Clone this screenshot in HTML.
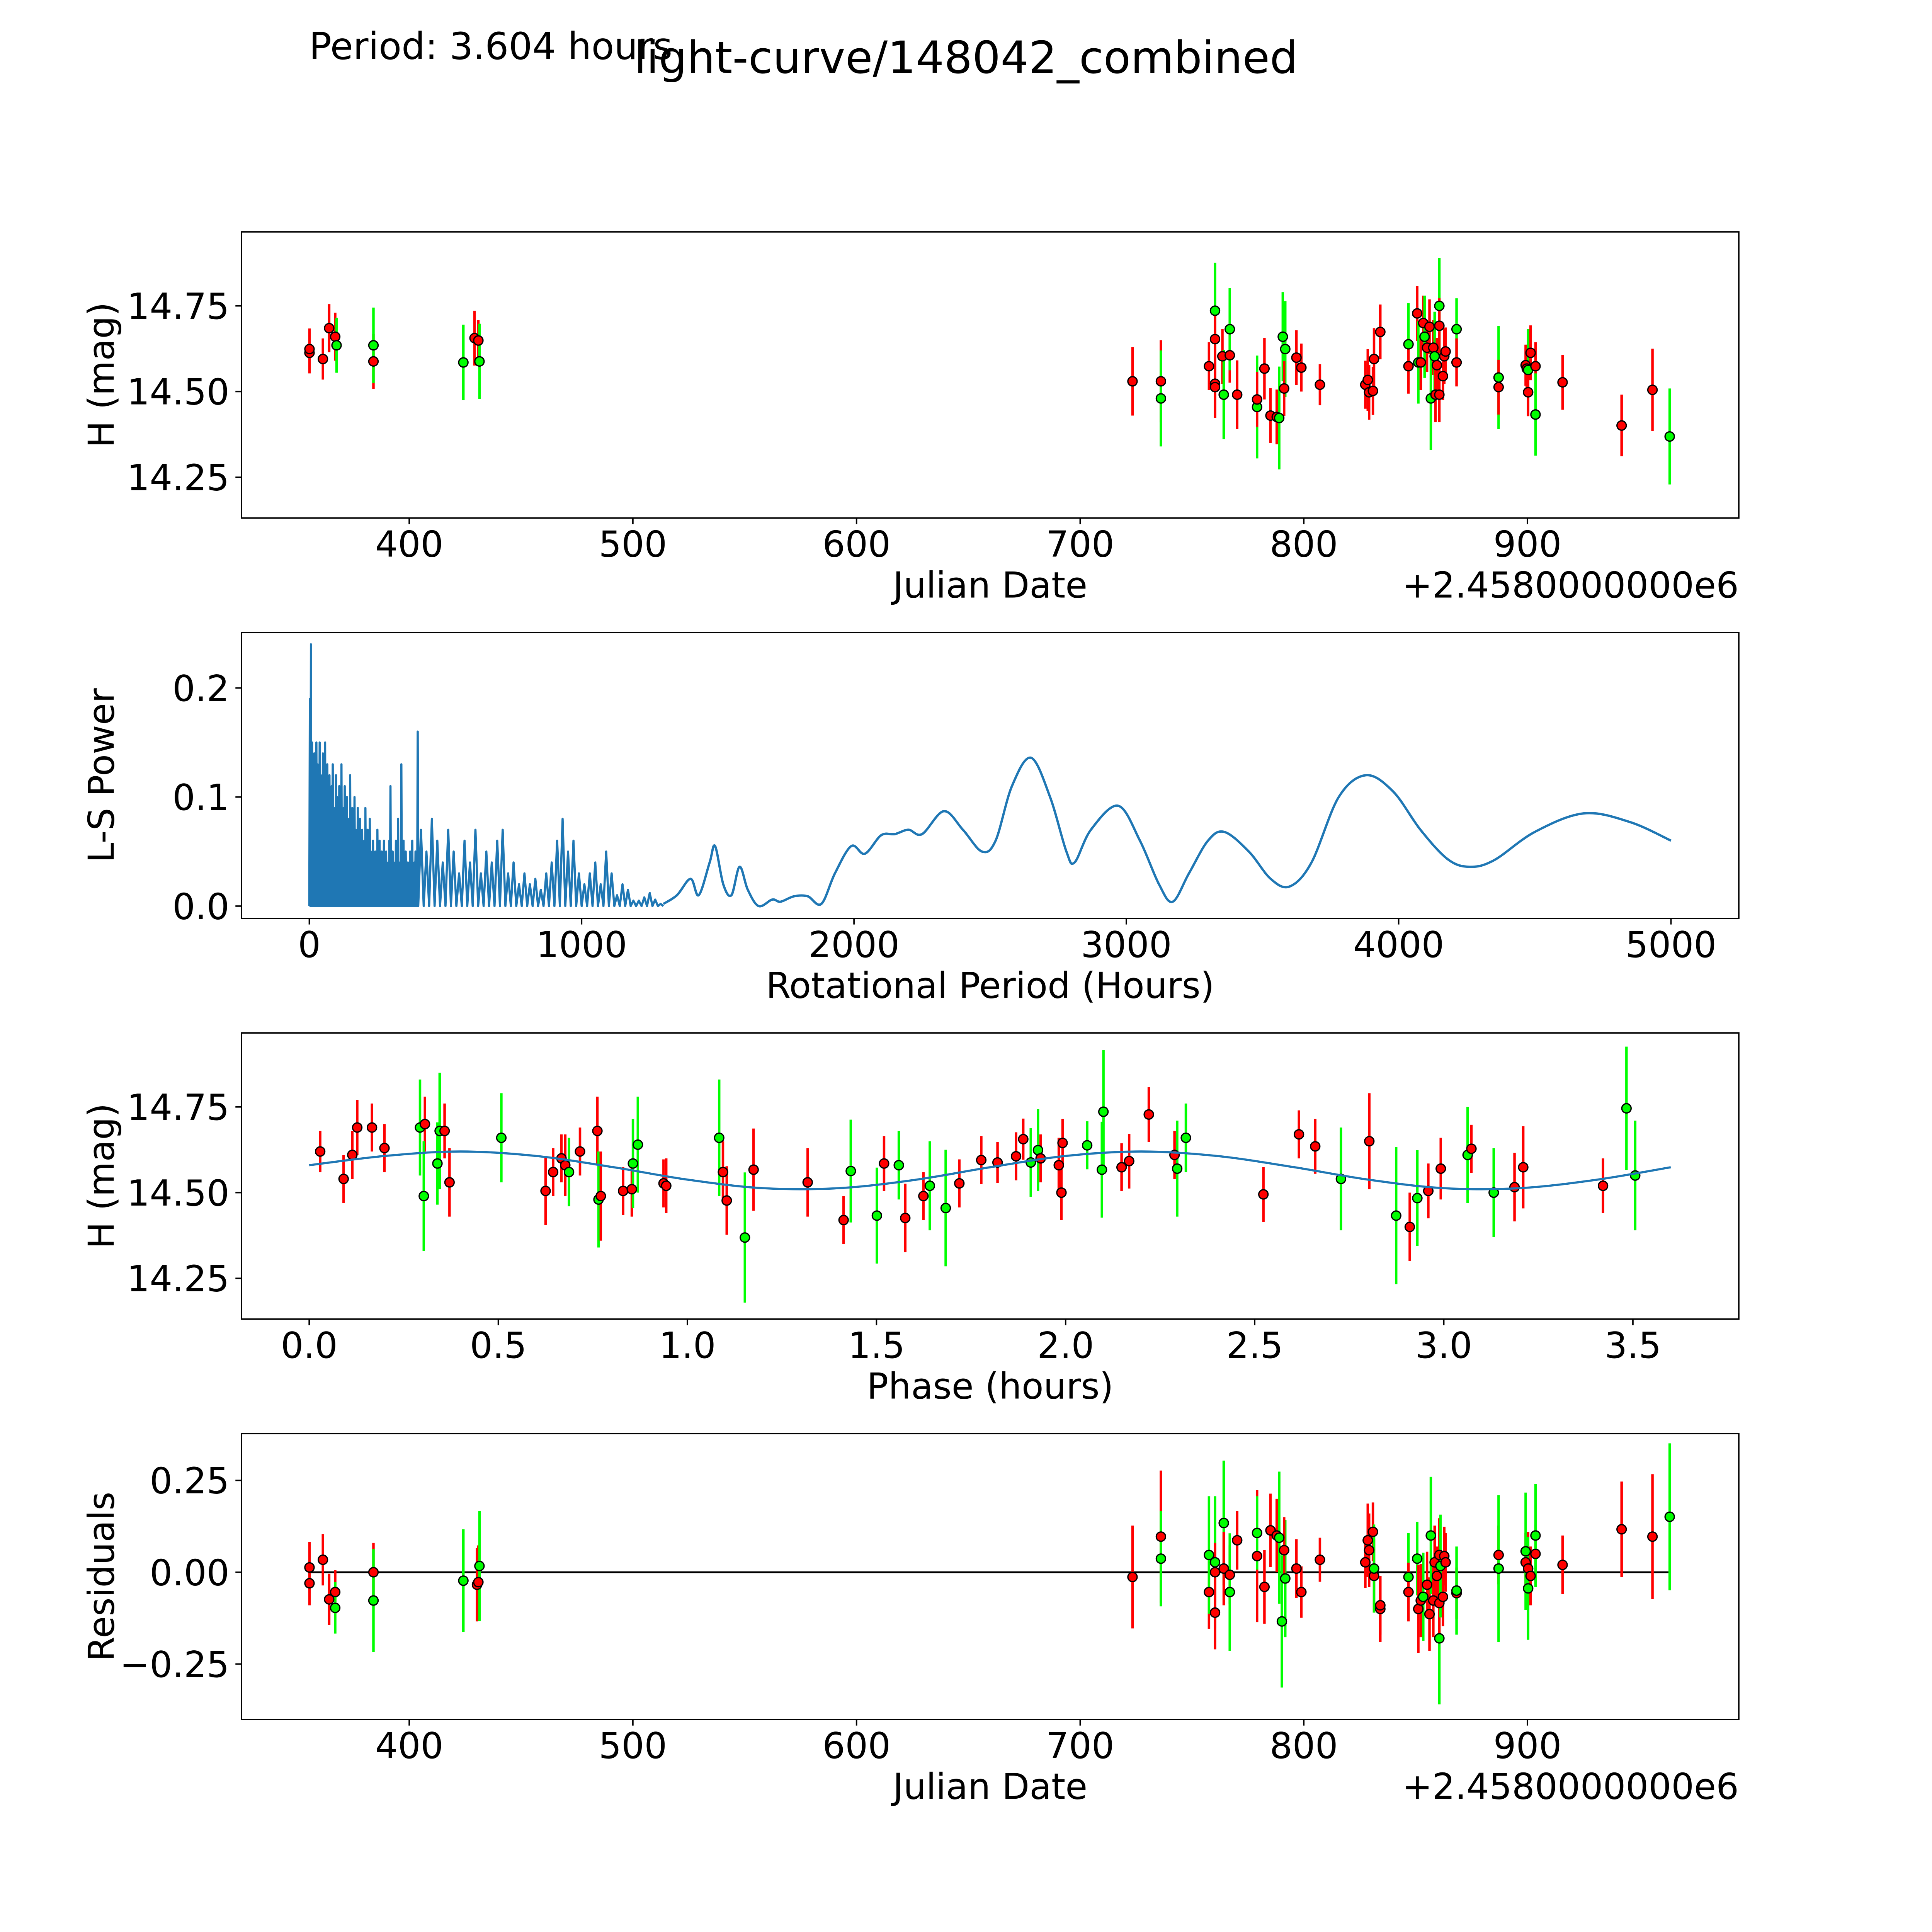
<!DOCTYPE html>
<html><head><meta charset="utf-8"><style>
html,body{margin:0;padding:0;background:#fff;overflow:hidden;width:100vw;height:100vh}
svg{display:block;width:100vw;height:100vh}
text{font-family:"DejaVu Sans","Liberation Sans",sans-serif;fill:#000}
</style></head><body>
<svg id="fig" xmlns="http://www.w3.org/2000/svg" viewBox="0 0 5400 5400" preserveAspectRatio="xMidYMid meet">
<rect width="5400" height="5400" fill="#fff"/>
<text x="864" y="165" font-size="104">Period: 3.604 hours</text>
<text x="2700" y="204" font-size="124" text-anchor="middle">light-curve/148042_combined</text>
</svg>
<script>
// ---------- Panel 1: light curve ----------
const lcDates=[355.4,355.4,361.4,364.2,366.9,367.5,384.0,384.0,424.2,429.2,430.9,431.4,
723.4,736.1,736.1,757.6,760.3,760.3,760.3,760.3,763.6,764.2,766.9,766.9,770.2,779.1,779.1,782.4,785.1,787.9,789.0,790.6,791.7,791.2,796.7,798.9,807.2,
827.5,828.6,829.2,830.9,831.4,834.2,846.8,846.8,850.7,851.2,852.3,853.4,854.0,855.1,856.2,856.8,857.9,858.5,858.9,859.5,860.6,860.6,860.6,862.2,862.8,863.4,868.3,868.3,
887.1,887.1,899.2,899.7,900.3,900.3,901.4,903.6,903.6,915.7,942.1,955.9,963.6];
const lcMag=[14.613,14.624,14.595,14.685,14.660,14.635,14.588,14.635,14.585,14.656,14.649,14.588,
14.53,14.53,14.48,14.574,14.736,14.653,14.523,14.513,14.603,14.491,14.606,14.682,14.491,14.455,14.477,14.567,14.430,14.426,14.423,14.66,14.624,14.509,14.599,14.570,14.520,
14.520,14.534,14.498,14.502,14.595,14.674,14.638,14.574,14.728,14.585,14.585,14.700,14.66,14.628,14.689,14.48,14.628,14.603,14.491,14.577,14.75,14.692,14.491,14.545,14.603,14.617,14.682,14.585,
14.541,14.513,14.577,14.567,14.563,14.498,14.613,14.574,14.433,14.527,14.401,14.505,14.369];
const lcErr=[0.06,0.06,0.06,0.07,0.07,0.08,0.08,0.11,0.11,0.08,0.06,0.11,
0.1,0.12,0.14,0.07,0.14,0.09,0.1,0.09,0.08,0.13,0.08,0.12,0.1,0.15,0.08,0.09,0.08,0.08,0.15,0.13,0.14,0.08,0.08,0.07,0.06,
0.07,0.09,0.08,0.07,0.09,0.08,0.12,0.08,0.08,0.12,0.08,0.08,0.12,0.07,0.08,0.15,0.08,0.13,0.08,0.08,0.14,0.08,0.08,0.07,0.08,0.07,0.09,0.07,
0.15,0.08,0.06,0.07,0.12,0.07,0.08,0.07,0.12,0.08,0.09,0.12,0.14];
const lcColor=["r","r","r","r","r","g","r","g","g","r","r","g",
"r","r","g","r","g","r","r","r","r","g","r","g","r","g","r","r","r","r","g","g","g","r","r","r","r",
"r","r","r","r","r","r","g","r","r","g","r","r","g","r","r","g","r","g","r","r","g","r","r","r","r","r","g","r",
"g","r","r","r","g","r","r","r","g","r","r","r","g"];
const lcXTicks=[400,500,600,700,800,900];
const lcYTicks=[14.25,14.50,14.75];

// ---------- Panel 2: periodogram ----------
const lsDensePeaks=[0.19,0.24,0.15,0.12,0.14,0.10,0.15,0.13,0.09,0.15,0.12,0.08,0.14,0.11,0.15,
0.10,0.13,0.08,0.12,0.06,0.11,0.13,0.09,0.07,0.12,0.10,0.05,0.11,0.08,0.13,0.06,0.09,0.11,0.07,0.10,0.04,0.08,0.12,0.06,0.09,0.05,0.10,0.07,0.03,0.09,0.06,0.08,0.04,0.07,0.05,
0.06,0.09,0.04,0.07,0.03,0.08,0.05,0.02,0.06,0.04,0.05,0.03,0.07,0.04,0.06,0.02,0.05,0.03,0.06,0.04,0.05,0.03,0.04,0.06,0.11,0.04,0.05,0.04,0.02,0.06,0.03,0.08,0.04,0.02,0.13,0.03,0.06,0.04,0.05,0.03,0.04,0.02,0.05,0.03,0.06,0.02,0.04,0.05,0.03,0.16];
const lsDenseStart=2, lsDenseStep=4;
const lsMidPeaks=[0.07,0.05,0.08,0.06,0.04,0.07,0.05,0.03,0.06,0.04,0.07,0.03,0.05,0.04,0.06,0.07,0.03,0.04,0.02,0.03,0.02,0.025,0.015,0.03,0.04,0.06,0.08,0.05,0.06,0.03,0.02,0.03,0.04,0.02,0.05,0.03,0.01,0.02,0.015,0.005,0.005,0.008,0.012,0.006,0.002];
const lsMidStart=410, lsMidStep=20;
const lsSmoothPeriod=[1300,1350,1400,1430,1470,1490,1520,1550,1580,1610,1650,1700,1730,1780,1830,1880,1930,1990,2040,2100,2150,2200,2250,2330,2400,2470,2520,2580,2650,2720,2780,2810,2870,2970,3050,3120,3170,3230,3300,3360,3450,3530,3600,3680,3780,3880,3980,4080,4180,4260,4350,4500,4680,4850,5000];
const lsSmoothPower=[0.002,0.01,0.025,0.01,0.04,0.055,0.02,0.01,0.036,0.015,0.0,0.006,0.004,0.009,0.009,0.002,0.03,0.055,0.048,0.065,0.066,0.07,0.066,0.087,0.07,0.05,0.06,0.11,0.136,0.1,0.05,0.04,0.07,0.092,0.06,0.02,0.004,0.03,0.06,0.068,0.05,0.025,0.018,0.04,0.1,0.12,0.105,0.07,0.043,0.036,0.042,0.068,0.085,0.077,0.06];
const lsXTicks=[0,1000,2000,3000,4000,5000];
const lsYTicks=[0.0,0.1,0.2];

// ---------- Panel 3: phased ----------
const phPhase=[0.029,0.091,0.114,0.127,0.293,0.306,0.303,0.166,0.199,0.339,0.345,0.358,0.371,0.508,0.625,0.645,0.667,0.677,0.687,0.716,0.762,0.765,0.771,0.830,0.853,0.856,0.869,0.937,0.944,
1.084,1.094,1.104,1.152,1.175,1.318,1.413,1.432,1.501,1.520,1.559,1.576,1.641,1.624,1.683,1.719,1.777,1.820,1.869,1.888,1.908,1.927,1.934,1.982,1.989,1.992,
2.057,2.100,2.096,2.148,2.168,2.220,2.288,2.295,2.318,2.523,2.617,2.660,2.728,2.803,2.874,2.910,2.930,2.959,2.992,3.063,3.073,3.132,3.187,3.210,3.421,3.483,3.506];
const phMag=[14.62,14.54,14.61,14.69,14.69,14.70,14.49,14.69,14.63,14.585,14.68,14.68,14.53,14.66,14.505,14.56,14.60,14.58,14.56,14.62,14.68,14.48,14.49,14.505,14.51,14.585,14.64,14.527,14.52,
14.66,14.56,14.477,14.369,14.567,14.53,14.42,14.563,14.433,14.585,14.58,14.426,14.52,14.49,14.455,14.527,14.595,14.588,14.606,14.656,14.588,14.624,14.60,14.58,14.50,14.645,
14.638,14.736,14.567,14.574,14.592,14.728,14.61,14.57,14.66,14.495,14.67,14.635,14.54,14.65,14.433,14.40,14.484,14.505,14.57,14.61,14.628,14.50,14.516,14.574,14.52,14.746,14.55];
const phErr=[0.06,0.07,0.07,0.08,0.14,0.08,0.16,0.07,0.07,0.12,0.17,0.08,0.1,0.13,0.1,0.07,0.07,0.09,0.1,0.07,0.1,0.14,0.13,0.07,0.08,0.13,0.14,0.07,0.08,
0.17,0.09,0.1,0.19,0.12,0.1,0.07,0.15,0.14,0.08,0.1,0.1,0.13,0.07,0.17,0.07,0.07,0.06,0.07,0.06,0.1,0.12,0.07,0.08,0.08,0.07,
0.07,0.18,0.14,0.07,0.08,0.08,0.07,0.14,0.1,0.08,0.07,0.08,0.15,0.14,0.2,0.1,0.14,0.08,0.09,0.14,0.07,0.13,0.1,0.12,0.08,0.18,0.16];
const phColor=["r","r","r","r","g","r","g","r","r","g","g","r","r","g","r","r","r","r","g","r","r","g","r","r","r","g","g","r","r",
"g","r","r","g","r","r","r","g","g","r","g","r","g","r","g","r","r","r","r","r","g","g","r","r","r","r",
"g","g","g","r","r","r","r","g","g","r","r","r","g","r","g","r","g","r","r","g","r","g","r","r","r","g","g"];
const modelPhase=[0,0.2,0.4,0.6,0.8,1.0,1.2,1.4,1.6,1.8,2.0,2.2,2.4,2.6,2.8,3.0,3.2,3.4,3.6];
const modelMag=[14.58,14.607,14.62,14.607,14.575,14.538,14.513,14.513,14.537,14.574,14.607,14.62,14.607,14.575,14.538,14.513,14.513,14.537,14.574];
const phXTicks=[0.0,0.5,1.0,1.5,2.0,2.5,3.0,3.5];
const phXLabels=["0.0","0.5","1.0","1.5","2.0","2.5","3.0","3.5"];

// ---------- Panel 4: residuals ----------
const resDates=[355.4,355.4,361.4,364.2,366.9,366.9,384.0,384.0,424.2,430.3,430.9,431.4,
723.4,736.1,736.1,757.6,757.6,760.3,760.3,760.3,764.2,764.2,766.9,766.9,770.2,779.1,779.1,782.4,785.1,787.9,789.0,790.2,791.7,791.2,796.7,798.9,807.2,
827.5,828.6,829.2,830.9,831.4,831.4,834.2,834.2,846.8,846.8,850.7,851.2,852.3,853.4,855.1,856.2,856.8,857.9,858.5,859.5,860.6,860.6,860.6,861.1,862.2,862.8,863.4,868.3,868.3,
887.1,887.1,899.2,899.2,900.3,900.3,901.4,903.6,903.6,915.7,942.1,955.9,963.6];
const resVal=[0.013,-0.03,0.034,-0.074,-0.054,-0.097,0.0,-0.077,-0.023,-0.034,-0.027,0.017,
-0.013,0.097,0.037,-0.054,0.047,0.027,0.0,-0.11,0.134,0.01,-0.007,-0.054,0.087,0.044,0.107,-0.04,0.114,0.10,0.094,-0.134,-0.017,0.06,0.01,-0.054,0.034,
0.027,0.087,0.06,0.11,-0.01,0.01,-0.10,-0.09,-0.013,-0.054,0.037,-0.1,-0.077,-0.067,-0.034,-0.114,0.1,-0.077,0.027,-0.01,-0.18,-0.084,0.047,0.017,-0.067,0.044,0.027,-0.057,-0.05,
0.047,0.01,0.027,0.057,0.01,-0.044,-0.01,0.05,0.1,0.02,0.117,0.097,0.151];
const resErr=[0.07,0.06,0.07,0.07,0.06,0.07,0.08,0.14,0.14,0.1,0.1,0.15,
0.14,0.18,0.13,0.1,0.16,0.18,0.08,0.1,0.17,0.1,0.08,0.16,0.08,0.18,0.1,0.1,0.1,0.1,0.18,0.18,0.16,0.09,0.08,0.07,0.06,
0.07,0.1,0.1,0.08,0.1,0.12,0.09,0.08,0.12,0.08,0.1,0.12,0.1,0.12,0.09,0.1,0.16,0.1,0.1,0.08,0.18,0.1,0.1,0.14,0.08,0.08,0.08,0.07,0.12,
0.08,0.2,0.08,0.16,0.1,0.14,0.08,0.08,0.14,0.08,0.13,0.17,0.2];
const resColor=["r","r","r","r","r","g","r","g","g","r","r","g",
"r","r","g","r","g","g","r","r","g","r","r","g","r","r","g","r","r","r","g","g","g","r","r","r","r",
"r","r","r","r","r","g","r","r","g","r","g","r","r","g","r","r","g","r","r","r","g","r","r","g","r","r","r","r","g",
"r","g","r","g","r","g","r","r","g","r","r","r","g"];
const resYTicks=[-0.25,0.0,0.25];
const resYLabels=["\u22120.25","0.00","0.25"];

const NS="http://www.w3.org/2000/svg";
const svg=document.getElementById('fig');
const L=675,R=4860;
const FS=100;
const COL={r:"#ff0000",g:"#00ff00"};
function mk(tag,attrs,parent){const e=document.createElementNS(NS,tag);for(const k in attrs)e.setAttribute(k,attrs[k]);(parent||svg).appendChild(e);return e;}
function scale(d0,d1,r0,r1){return v=>r0+(v-d0)/(d1-d0)*(r1-r0);}

function axes(name,top,bot,xs,ys,xt,xl,yt,yl,xlabel,ylabel,offset){
  const g=mk('g',{});
  
  
  xt.forEach((t,i)=>{const x=xs(t);
    const tk=mk('line',{x1:x,x2:x,y1:bot,y2:bot+17,stroke:'#000','stroke-width':4},g);
    
    
    const tx=mk('text',{x:x,y:bot+108,'font-size':FS,'text-anchor':'middle'},g);tx.textContent=xl[i];
    
    });
  yt.forEach((t,i)=>{const y=ys(t);
    const tk=mk('line',{x1:L-17,x2:L,y1:y,y2:y,stroke:'#000','stroke-width':4},g);
    
    
    const tx=mk('text',{x:L-34,y:y+36,'font-size':FS,'text-anchor':'end'},g);tx.textContent=yl[i];
    
    });
  const xlb=mk('text',{x:(L+R)/2,y:bot+222,'font-size':FS,'text-anchor':'middle'},g);xlb.textContent=xlabel;
  
  
  const cy=(top+bot)/2;
  const ylb=mk('text',{x:318,y:cy,'font-size':FS,'text-anchor':'middle',transform:`rotate(-90 318 ${cy})`},g);ylb.textContent=ylabel;
  
  
  if(offset){const o=mk('text',{x:R,y:bot+222,'font-size':FS,'text-anchor':'end'},g);o.textContent=offset;
    
    }
  return g;
}
function frame(top,bot,name){const f=mk('rect',{x:L,y:top,width:R-L,height:bot-top,fill:'none',stroke:'#000','stroke-width':4});
  
  }
function points(xs,ys,X,Y,E,C,name){
  const g=mk('g',{});
  
  
  X.forEach((v,i)=>{const x=xs(v);
    const eb=mk('line',{x1:x,x2:x,y1:ys(Y[i]-E[i]),y2:ys(Y[i]+E[i]),stroke:COL[C[i]],'stroke-width':7},g);
    
    });
  X.forEach((v,i)=>{
    const c=mk('circle',{cx:xs(v),cy:ys(Y[i]),r:13,fill:COL[C[i]],stroke:'#000','stroke-width':3.5},g);
    
    });
}
function smoothPath(pts){let d=`M${pts[0][0]},${pts[0][1]}`;
  for(let i=0;i<pts.length-1;i++){const p0=pts[Math.max(0,i-1)],p1=pts[i],p2=pts[i+1],p3=pts[Math.min(pts.length-1,i+2)];
    d+=` C${p1[0]+(p2[0]-p0[0])/6},${p1[1]+(p2[1]-p0[1])/6} ${p2[0]-(p3[0]-p1[0])/6},${p2[1]-(p3[1]-p1[1])/6} ${p2[0]},${p2[1]}`;}
  return d;}

// Panel 1
{const top=648,bot=1448;const xs=scale(325,994.5,L,R),ys=scale(14.131,14.966,bot,top);
 axes('light-curve-axes',top,bot,xs,ys,lcXTicks,lcXTicks.map(String),lcYTicks,lcYTicks.map(v=>v.toFixed(2)),'Julian Date','H (mag)','+2.4580000000e6');
 points(xs,ys,lcDates,lcMag,lcErr,lcColor,'light-curve-points');frame(top,bot,'light-curve-frame');}
// Panel 2
{const top=1768,bot=2567;const xs=scale(-249,5249,L,R),ys=scale(-0.0113,0.2508,bot,top);
 axes('periodogram-axes',top,bot,xs,ys,lsXTicks,lsXTicks.map(String),lsYTicks,lsYTicks.map(v=>v.toFixed(1)),'Rotational Period (Hours)','L-S Power');
 let d=`M${xs(0)},${ys(0)}`;
 lsDensePeaks.forEach((p,i)=>{const per=lsDenseStart+i*lsDenseStep;d+=` L${xs(per)},${ys(p)} L${xs(per+lsDenseStep/2)},${ys(0)}`;});
 lsMidPeaks.forEach((p,i)=>{const per=lsMidStart+i*lsMidStep;d+=` L${xs(per)},${ys(p)} L${xs(per+lsMidStep/2)},${ys(0)}`;});
 const pth=mk('path',{d:d,fill:'none',stroke:'#1f77b4','stroke-width':6,'stroke-linejoin':'round'});
 
 
 const sp=mk('path',{d:smoothPath(lsSmoothPeriod.map((p,i)=>[xs(p),ys(lsSmoothPower[i])])),fill:'none',stroke:'#1f77b4','stroke-width':6.5});
 
 
 frame(top,bot,'periodogram-frame');}
// Panel 3
{const top=2887,bot=3687;const xs=scale(-0.179,3.780,L,R),ys=scale(14.131,14.966,bot,top);
 axes('phased-axes',top,bot,xs,ys,phXTicks,phXLabels,lcYTicks,lcYTicks.map(v=>v.toFixed(2)),'Phase (hours)','H (mag)');
 points(xs,ys,phPhase,phMag,phErr,phColor,'phased-points');
 const m=mk('path',{d:smoothPath(modelPhase.map((p,i)=>[xs(p),ys(modelMag[i])])),fill:'none',stroke:'#1f77b4','stroke-width':6});
 
 
 frame(top,bot,'phased-frame');}
// Panel 4
{const top=4007,bot=4806;const xs=scale(325,994.5,L,R),ys=scale(-0.401,0.3775,bot,top);
 axes('residuals-axes',top,bot,xs,ys,lcXTicks,lcXTicks.map(String),resYTicks,resYLabels,'Julian Date','Residuals','+2.4580000000e6');
 const z=mk('line',{x1:xs(355.4),x2:xs(963.6),y1:ys(0),y2:ys(0),stroke:'#000','stroke-width':5});
 
 
 points(xs,ys,resDates,resVal,resErr,resColor,'residual-points');frame(top,bot,'residuals-frame');}
</script>
</body></html>
